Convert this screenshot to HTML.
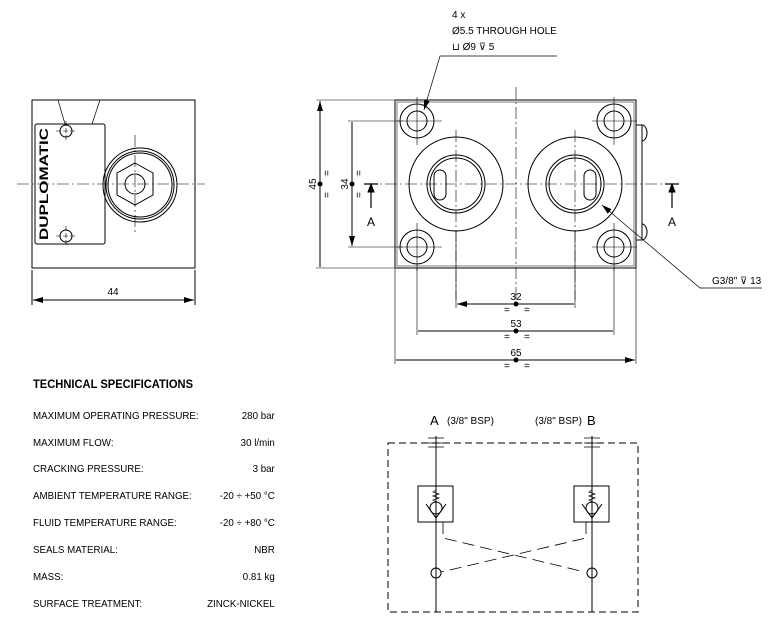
<!DOCTYPE html>
<html><head><meta charset="utf-8"><style>
body{margin:0;background:#fff;}
svg{display:block;font-family:"Liberation Sans",sans-serif;}
</style></head><body>
<svg width="772" height="624" viewBox="0 0 772 624" xmlns="http://www.w3.org/2000/svg">
<defs>
<marker id="ar" viewBox="0 0 10 6" refX="10" refY="3" markerWidth="10" markerHeight="6" orient="auto-start-reverse" markerUnits="userSpaceOnUse"><path d="M0,0L10,3L0,6z" fill="#000"/></marker>
</defs>
<g fill="none" stroke="#000" stroke-width="1">
<rect x="32" y="100" width="163" height="168"/>
<rect x="35" y="124" width="70" height="120" rx="2"/>
<circle cx="66" cy="131" r="6"/><circle cx="66" cy="236" r="6"/>
<path d="M66,121v20M56,131h20M66,226v20M56,236h20" stroke-width="0.6" stroke-dasharray="5,2"/>
<circle cx="140" cy="185" r="37"/><circle cx="140" cy="185" r="34"/><circle cx="140" cy="185" r="32"/>
<polygon points="135,163 153,173 153,195 135,205 117,195 117,173"/>
<circle cx="135" cy="184" r="10"/>
<path d="M17,184H205M135,135V232" stroke-width="0.6" stroke-dasharray="12,3,2,3"/>
<path d="M58,100L65,124M100,100L92,124" stroke-width="0.7"/>
<path d="M32,270V305M195,270V305"/>
<path d="M33,300H194" marker-start="url(#ar)" marker-end="url(#ar)"/>
<rect x="395" y="100" width="241" height="168"/>
<rect x="397" y="102" width="237" height="164" stroke-width="0.5"/>
<path d="M636,125h6v115h-6"/>
<path d="M642,125a5,8 0 0 1 0,16M642,224a5,8 0 0 1 0,16" />
<g>
<circle cx="417" cy="121" r="17"/><circle cx="417" cy="121" r="10"/>
<circle cx="614" cy="121" r="17"/><circle cx="614" cy="121" r="10"/>
<circle cx="417" cy="247" r="17"/><circle cx="417" cy="247" r="10"/>
<circle cx="614" cy="247" r="17"/><circle cx="614" cy="247" r="10"/>
</g>
<path d="M417,97v48M397,121h45M614,97v48M592,121h45M417,223v48M397,247h45M614,223v48M592,247h45" stroke-width="0.6"/>
<circle cx="456" cy="184" r="47"/><circle cx="456" cy="184" r="29"/><circle cx="456" cy="184" r="26"/>
<circle cx="575" cy="184" r="47"/><circle cx="575" cy="184" r="29"/><circle cx="575" cy="184" r="26"/>
<rect x="434" y="170" width="12" height="30" rx="6"/>
<rect x="584" y="170" width="12" height="30" rx="6"/>
<path d="M516,87V300M456,130V300M575,130V300M365,184H680" stroke-width="0.6" stroke-dasharray="12,3,2,3"/>
<path d="M364,184h14M371,184v24M665,184h14M672,184v24" stroke-width="1.2"/>
<path d="M368,192l3,-8l3,8z M669,192l3,-8l3,8z" fill="#000"/>
<path d="M316,100h78M316,268h78M348,121h55M348,247h55" stroke-width="0.6"/>
<path d="M320,101V267M352,122V246" marker-start="url(#ar)" marker-end="url(#ar)"/>
<path d="M456,230V308M575,230V308M417,268V335M614,268V335M395,268V364M636,268V364" stroke-width="0.6"/>
<path d="M457,304H574M418,331H613M396,360H635" marker-start="url(#ar)" marker-end="url(#ar)"/>
<path d="M557,56H440L424,110" marker-end="url(#ar)" stroke-width="0.7"/>
<path d="M762,288H700L602,205" marker-end="url(#ar)" stroke-width="0.7"/>
</g>
<g fill="#000">
<circle cx="516" cy="304" r="2.5"/><circle cx="516" cy="331" r="2.5"/><circle cx="516" cy="360" r="2.5"/>
<circle cx="320" cy="184" r="2.5"/><circle cx="352" cy="184" r="2.5"/>
</g>
<g font-size="10" fill="#000">
<text x="452" y="18">4 x</text>
<text x="452" y="34">Ø5.5 THROUGH HOLE</text>
<text x="452" y="50">⊔ Ø9 ⊽ 5</text>
<text x="712" y="284">G3/8" ⊽ 13</text>
<text x="516" y="300" text-anchor="middle">32</text>
<text x="516" y="327" text-anchor="middle">53</text>
<text x="516" y="356" text-anchor="middle">65</text>
<text x="504" y="313">=</text><text x="524" y="313">=</text>
<text x="504" y="340">=</text><text x="524" y="340">=</text>
<text x="504" y="369">=</text><text x="524" y="369">=</text>
<text x="113" y="295" text-anchor="middle">44</text>
<text transform="translate(316,184) rotate(-90)" text-anchor="middle">45</text>
<text transform="translate(348,184) rotate(-90)" text-anchor="middle">34</text>
<text transform="translate(330,176) rotate(-90)">=</text><text transform="translate(330,198) rotate(-90)">=</text>
<text transform="translate(362,176) rotate(-90)">=</text><text transform="translate(362,198) rotate(-90)">=</text>
<text x="367" y="226" font-size="12">A</text>
<text x="668" y="226" font-size="12">A</text>
<text transform="translate(48,240) rotate(-90)" font-size="12" font-weight="bold" textLength="112" lengthAdjust="spacingAndGlyphs">DUPLOMATIC</text>
</g>
<g font-size="10.5" fill="#000" transform="translate(33,0) scale(0.93,1)">
<text x="0" y="388" font-size="12" font-weight="bold">TECHNICAL SPECIFICATIONS</text>
<text x="0" y="419">MAXIMUM OPERATING PRESSURE:</text><text x="260" y="419" text-anchor="end">280 bar</text>
<text x="0" y="446">MAXIMUM FLOW:</text><text x="260" y="446" text-anchor="end">30 l/min</text>
<text x="0" y="472">CRACKING PRESSURE:</text><text x="260" y="472" text-anchor="end">3 bar</text>
<text x="0" y="499">AMBIENT TEMPERATURE RANGE:</text><text x="260" y="499" text-anchor="end">-20 ÷ +50 °C</text>
<text x="0" y="526">FLUID TEMPERATURE RANGE:</text><text x="260" y="526" text-anchor="end">-20 ÷ +80 °C</text>
<text x="0" y="553">SEALS MATERIAL:</text><text x="260" y="553" text-anchor="end">NBR</text>
<text x="0" y="580">MASS:</text><text x="260" y="580" text-anchor="end">0.81 kg</text>
<text x="0" y="607">SURFACE TREATMENT:</text><text x="260" y="607" text-anchor="end">ZINCK-NICKEL</text>
</g>
<g fill="none" stroke="#000" stroke-width="1">
<rect x="388" y="443" width="250" height="169" stroke-dasharray="7,4"/>
<path d="M436,436V612M592,436V612"/>
<path d="M428,438h16M428,443h16M428,447h16M584,438h16M584,443h16M584,447h16" stroke-width="0.8"/>
<rect x="418" y="486" width="35" height="36"/><rect x="574" y="486" width="35" height="36"/>
<circle cx="436" cy="508" r="6"/><circle cx="592" cy="508" r="6"/>
<path d="M426,504L436,518L446,504M582,504L592,518L602,504"/>
<path d="M436,490l-3,2l6,2l-6,2l6,2l-6,2l3,2M592,490l-3,2l6,2l-6,2l6,2l-6,2l3,2" stroke-width="0.7"/>
<circle cx="436" cy="573" r="5"/><circle cx="592" cy="573" r="5"/>
<path d="M443,522V538L585,572M586,522V538L441,572" stroke-dasharray="12,6" stroke-width="0.8"/>
</g>
<g fill="#000">
<text x="430" y="425" font-size="13">A</text><text x="447" y="424" font-size="10">(3/8" BSP)</text>
<text x="535" y="424" font-size="10">(3/8" BSP)</text><text x="587" y="425" font-size="13">B</text>
</g>
</svg>
</body></html>
